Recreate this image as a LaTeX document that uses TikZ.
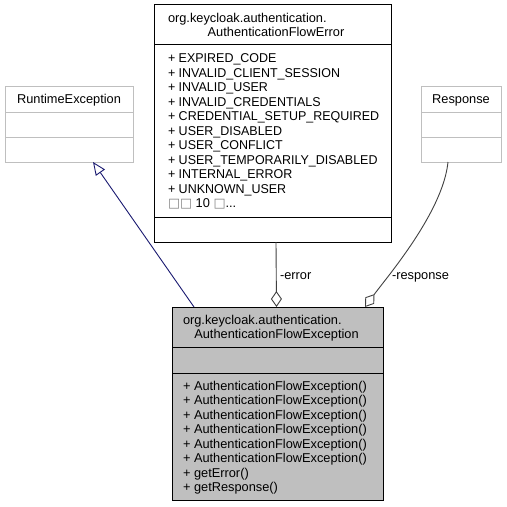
\documentclass[tikz,border=0pt]{standalone}
\usepackage{fontspec}
\setmainfont{Liberation Sans}
\newfontfamily\symfont{DejaVu Sans}
\usetikzlibrary{arrows.meta,calc}
\definecolor{edgegray}{HTML}{404040}
\definecolor{boxgray}{HTML}{BFBFBF}
\definecolor{inhblue}{HTML}{191970}
\begin{document}
\begin{tikzpicture}[x=1pt,y=-1pt,
  every node/.style={inner sep=0pt, outer sep=0pt},
  txt/.style={font=\fontsize{12.8}{14.5}\selectfont, text=black},
  captxt/.style={font=\fontsize{12.8}{14.5}\selectfont, text=black, xscale=0.975},
  extbox/.style={draw=boxgray, fill=white, line width=1pt, rectangle},
  clsbox/.style={draw=black, fill=white, line width=1pt, rectangle},
  mainbox/.style={draw=black, fill=boxgray, line width=1pt, rectangle},
  extsep/.style={draw=boxgray, line width=1pt},
  clssep/.style={draw=black, line width=1pt},
  inh/.style={draw=inhblue, line width=0.9pt, -{Triangle[open, length=13pt, width=11pt]}},
  agg/.style={draw=edgegray, line width=0.9pt, -{Diamond[open, length=16pt, width=11pt]}}
]
\useasboundingbox (0,0) rectangle (507,507);

% RuntimeException
\node[extbox, anchor=north west, minimum width=128pt, minimum height=76pt] (rt) at (5,86) {};
\draw[extsep] ($(rt.north west)+(0,26)$) -- ($(rt.north east)+(0,26)$);
\draw[extsep] ($(rt.north west)+(0,51)$) -- ($(rt.north east)+(0,51)$);
\node[txt, anchor=base] (rtname) at (69,103) {RuntimeException};

% Response
\node[extbox, anchor=north west, minimum width=80pt, minimum height=76pt] (resp) at (421,86) {};
\draw[extsep] ($(resp.north west)+(0,26)$) -- ($(resp.north east)+(0,26)$);
\draw[extsep] ($(resp.north west)+(0,51)$) -- ($(resp.north east)+(0,51)$);
\node[txt, anchor=base] (respname) at (461,103) {Response};

% AuthenticationFlowError
\node[clsbox, anchor=north west, minimum width=237pt, minimum height=238pt] (err) at (154,4) {};
\draw[clssep] ($(err.north west)+(0,40)$) -- ($(err.north east)+(0,40)$);
\draw[clssep] ($(err.north west)+(0,213)$) -- ($(err.north east)+(0,213)$);
\node[txt, anchor=base west] (errt1) at (168,22) {org.keycloak.authentication.};
\node[txt, anchor=base] (errt2) at (276,36.5) {AuthenticationFlowError};
\foreach \t [count=\i from 0] in {+ EXPIRED\_CODE, + INVALID\_CLIENT\_SESSION, + INVALID\_USER, + INVALID\_CREDENTIALS, + CREDENTIAL\_SETUP\_REQUIRED, + USER\_DISABLED, + USER\_CONFLICT, + USER\_TEMPORARILY\_DISABLED, + INTERNAL\_ERROR, + UNKNOWN\_USER}
  \node[captxt, anchor=base west] (em\i) at (168,62.5+14.5*\i) {\t};
\node[txt, anchor=base west] (emore) at (168,207.5) {{\symfont\color{gray}□□} 10 {\symfont\color{gray}□}...};

% AuthenticationFlowException
\node[mainbox, anchor=north west, minimum width=211pt, minimum height=193pt] (main) at (172,307) {};
\draw[clssep] ($(main.north west)+(0,40)$) -- ($(main.north east)+(0,40)$);
\draw[clssep] ($(main.north west)+(0,66)$) -- ($(main.north east)+(0,66)$);
\node[txt, anchor=base west] (maint1) at (183,324) {org.keycloak.authentication.};
\node[txt, anchor=base] (maint2) at (276.5,338.5) {AuthenticationFlowException};
\foreach \t [count=\i from 0] in {+ AuthenticationFlowException(), + AuthenticationFlowException(), + AuthenticationFlowException(), + AuthenticationFlowException(), + AuthenticationFlowException(), + AuthenticationFlowException(), + getError(), + getResponse()}
  \node[txt, anchor=base west] (mm\i) at (183,390+14.57*\i) {\t};

% connectors
\draw[inh] ($(main.north west)+(22,0)$) -- ($(rt.south west)+(88,0)$);
\draw[agg] ($(err.south west)+(122,0)$) -- ($(main.north west)+(104.5,0)$);
\draw[agg] ($(resp.south west)+(27,0)$) .. controls ($(resp.south west)+(22,50)$) and ($(main.north east)+(4,-30)$) .. ($(main.north east)+(-18,0)$);

\node[txt, anchor=base west] (lerr) at (280,279.5) {-error};
\node[txt, anchor=base west] (lresp) at (392,279.5) {-response};
\end{tikzpicture}
\end{document}
